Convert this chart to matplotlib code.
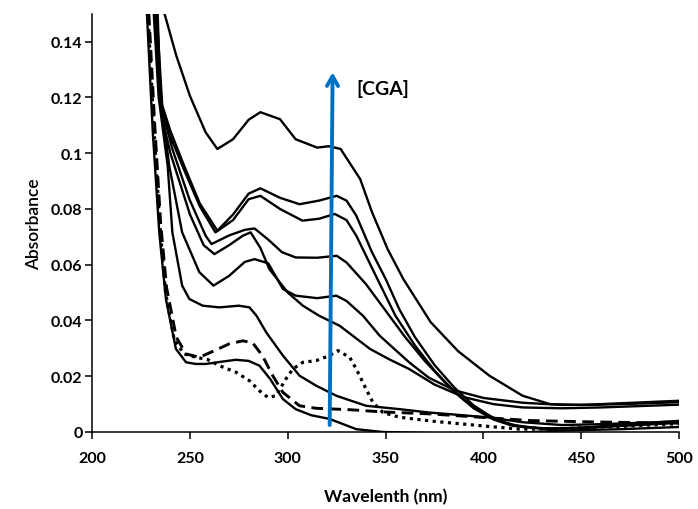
import numpy as np
import matplotlib.pyplot as plt

plt.rcParams['font.family'] = ['Lato', 'DejaVu Sans']

# top curve
wl_a = [237, 243, 250, 258, 264, 272, 280, 286, 296, 304, 315, 321, 327, 337, 343, 351, 359,
        373, 387, 403, 420, 434, 450, 470, 500]
abs_a = [0.150, 0.135, 0.1205, 0.1075, 0.1015, 0.105, 0.112, 0.1147, 0.1122, 0.105, 0.102, 0.1025,
         0.1015, 0.0907, 0.0789, 0.0656, 0.0549, 0.0394, 0.029, 0.0202, 0.013, 0.0100, 0.0097,
         0.0103, 0.0112]

wl_b = [233, 234.5, 240, 247, 255, 264, 272, 280, 286, 296, 306, 316, 325, 330, 335, 343, 350,
        357, 365, 375, 385, 395, 405, 415, 430, 450, 475, 500]
abs_b = [0.150, 0.120, 0.108, 0.0955, 0.082, 0.0722, 0.078, 0.0855, 0.0874, 0.084, 0.0817, 0.083,
         0.0847, 0.083, 0.0776, 0.0645, 0.0549, 0.044, 0.034, 0.024, 0.016, 0.0095, 0.005, 0.0025,
         0.0012, 0.0015, 0.0028, 0.004]

wl_c = [233.5, 235, 240, 247, 255, 263, 272, 280, 286, 296, 307.5, 316, 324, 330, 335, 345, 355,
        365, 375, 385, 395, 405, 415, 430, 450, 475, 500]
abs_c = [0.150, 0.118, 0.106, 0.094, 0.081, 0.0716, 0.076, 0.0835, 0.0847, 0.080, 0.0758, 0.0765,
         0.0782, 0.076, 0.0704, 0.056, 0.0417, 0.031, 0.022, 0.0145, 0.0085, 0.0045, 0.0022,
         0.0012, 0.0014, 0.0025, 0.0035]

wl_d = [233, 236, 241, 249.7, 258, 261, 270, 278, 283, 290, 297, 304, 315, 325, 330, 340, 350,
        360, 370, 380, 390, 400, 410, 420, 435, 460, 500]
abs_d = [0.150, 0.115, 0.1015, 0.0835, 0.0704, 0.0674, 0.0705, 0.0725, 0.073, 0.069, 0.0645,
         0.0626, 0.0625, 0.0632, 0.0608, 0.053, 0.0435, 0.034, 0.0255, 0.018, 0.0115, 0.0068,
         0.0035, 0.0018, 0.0012, 0.0018, 0.0033]

wl_e = [232.5, 236, 240, 250, 257, 262.5, 270, 277, 281, 286, 290.6, 300, 307.7, 316, 326.5, 342,
        352, 362, 375, 390, 405, 420, 440, 460, 480, 500]
abs_e = [0.150, 0.112, 0.100, 0.078, 0.067, 0.0638, 0.067, 0.0704, 0.0716, 0.066, 0.0584, 0.050,
         0.0453, 0.0417, 0.0381, 0.0298, 0.026, 0.0226, 0.017, 0.0125, 0.010, 0.0088, 0.0085,
         0.0088, 0.0093, 0.0098]

wl_f = [232, 235, 239.4, 246, 254.8, 262, 270, 278, 283, 290, 297.5, 304, 315, 324.8, 330, 338.4,
        347, 362, 372, 385, 400, 420, 440, 460, 480, 500]
abs_f = [0.150, 0.120, 0.0955, 0.0716, 0.0573, 0.0525, 0.056, 0.061, 0.062, 0.0605, 0.0513, 0.0489,
         0.048, 0.0489, 0.047, 0.0417, 0.0345, 0.025, 0.0195, 0.015, 0.0122, 0.0105, 0.0097,
         0.0098, 0.0102, 0.0107]

wl_g = [231.5, 234, 238.6, 241, 246, 249.7, 256.5, 265, 275, 280.4, 284, 289, 297.5, 306, 314.5,
        324.8, 340, 357, 372, 386, 403, 420, 440, 460, 480, 500]
abs_g = [0.150, 0.120, 0.0955, 0.0716, 0.0525, 0.0477, 0.0453, 0.0447, 0.0453, 0.0447, 0.0417,
         0.0357, 0.0274, 0.0202, 0.0166, 0.013, 0.0094, 0.0082, 0.007, 0.0062, 0.0052, 0.0035,
         0.0025, 0.0028, 0.0033, 0.0038]

# lowest solid curve
wl_h = [228, 231, 234.3, 237.7, 242.8, 248, 253, 258, 266, 273.5, 280, 285.5, 291, 297.5, 304,
        312, 321.3, 335, 348.5, 380, 420, 440, 470, 500]
abs_h = [0.150, 0.1075, 0.0716, 0.0477, 0.0298, 0.025, 0.0244, 0.0244, 0.0252, 0.0259, 0.0255,
         0.0238, 0.019, 0.0118, 0.0082, 0.006, 0.0047, 0.001, 0.0, -0.0005, -0.0002, 0.0005,
         0.001, 0.0018]

wl_dash = [229, 232, 235, 238, 243, 248, 254.8, 262, 270, 277, 282, 287, 292.3, 297.5, 306, 314.5,
           331.6, 348.5, 372.5, 398, 424, 450, 475, 500]
abs_dash = [0.150, 0.110, 0.075, 0.052, 0.034, 0.028, 0.0268, 0.029, 0.0316, 0.0327, 0.032, 0.0274,
            0.0202, 0.0142, 0.0094, 0.0085, 0.008, 0.0072, 0.0065, 0.0053, 0.0041, 0.0037, 0.0034,
            0.0032]

wl_dot = [228.5, 231.5, 234.5, 237.5, 242, 247, 253, 259, 265, 273.6, 280.4, 285.5, 289.8, 294, 299,
          302.6, 307.7, 314.5, 321.3, 325.6, 331.6, 335, 340, 343.5, 348.6, 357, 375, 398, 418.6,
          440, 470, 500]
abs_dot = [0.150, 0.110, 0.075, 0.050, 0.033, 0.028, 0.0268, 0.026, 0.0238, 0.0214, 0.0184, 0.0148,
           0.0124, 0.013, 0.019, 0.0226, 0.025, 0.0256, 0.0274, 0.0292, 0.0268, 0.0226, 0.0154,
           0.0106, 0.007, 0.0053, 0.0038, 0.0023, 0.001, 0.0012, 0.002, 0.003]

x_ticks = [200, 250, 300, 350, 400, 450, 500]
y_ticks = [0, 0.02, 0.04, 0.06, 0.08, 0.1, 0.12, 0.14]
y_tick_labels = ['0', '0.02', '0.04', '0.06', '0.08', '0.1', '0.12', '0.14']

fig = plt.figure(figsize=(6.98, 5.10), dpi=100)
ax = fig.add_axes([0.132, 0.151, 0.841, 0.820])

for wl, ab in [(wl_a, abs_a), (wl_b, abs_b), (wl_c, abs_c), (wl_d, abs_d), (wl_e, abs_e),
               (wl_f, abs_f), (wl_g, abs_g), (wl_h, abs_h)]:
    ax.plot(wl, ab, color='black', lw=1.7, solid_joinstyle='round')
ax.plot(wl_dash, abs_dash, color='black', lw=2.1, linestyle=(0, (4, 2.2)))
ax.plot(wl_dot, abs_dot, color='black', lw=2.3, linestyle=(0, (1, 1.4)))

ax.annotate('', xy=(322.9, 0.129), xytext=(321.4, 0.0025),
            arrowprops=dict(arrowstyle='->,head_length=0.7,head_width=0.4',
                            color='#0070C0', lw=2.8, shrinkA=0, shrinkB=0))
ax.text(335, 0.1235, '[CGA]', fontsize=14, fontweight='bold', va='center', ha='left')

ax.set_xlim(200, 500)
ax.set_ylim(0, 0.15)
ax.set_xticks(x_ticks)
ax.set_yticks(y_ticks)
ax.set_yticklabels(y_tick_labels)
for s in ['top', 'right']:
    ax.spines[s].set_visible(False)
for s in ['left', 'bottom']:
    ax.spines[s].set_linewidth(1.1)
ax.tick_params(axis='both', direction='out', length=5, width=1.1, labelsize=11.5)
ax.tick_params(axis='x', pad=9)
ax.tick_params(axis='y', pad=2)
for lbl in ax.get_xticklabels() + ax.get_yticklabels():
    lbl.set_fontweight('bold')

ax.set_xlabel('Wavelenth (nm)', fontsize=12.5, fontweight='bold', labelpad=16)
ax.set_ylabel('Absorbance', fontsize=12.5, fontweight='semibold', labelpad=6)

fig.savefig('out.png', dpi=100)
